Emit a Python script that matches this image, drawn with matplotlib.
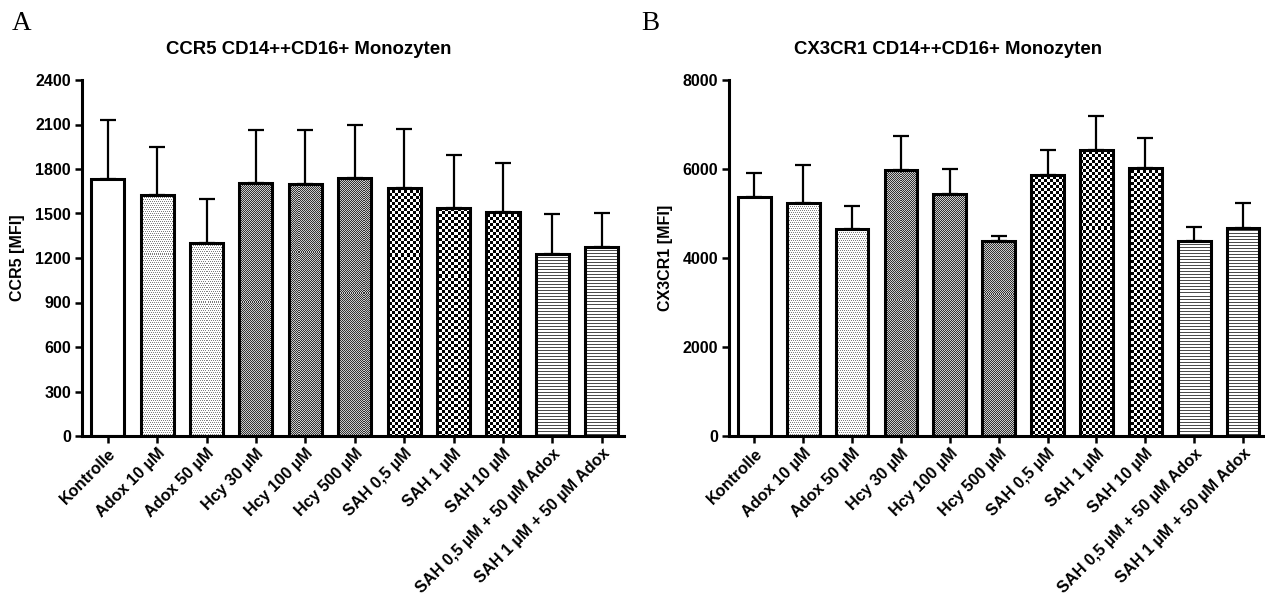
import numpy as np
import matplotlib
matplotlib.use("Agg")
import matplotlib.pyplot as plt

plt.rcParams['font.family'] = ['Liberation Sans', 'DejaVu Sans']
plt.rcParams['font.weight'] = 'bold'

# Data (mean and upper SEM)
groups = ["Kontrolle", "Adox 10 µM", "Adox 50 µM", "Hcy 30 µM", "Hcy 100 µM",
          "Hcy 500 µM", "SAH 0,5 µM", "SAH 1 µM", "SAH 10 µM",
          "SAH 0,5 µM + 50 µM Adox", "SAH 1 µM + 50 µM Adox"]
ccr5_mean = [1735, 1627, 1303, 1706, 1701, 1740, 1674, 1539, 1512, 1225, 1276]
ccr5_err = [397, 321, 293, 355, 360, 355, 396, 355, 326, 270, 227]
cx3cr1_mean = [5378, 5229, 4645, 5978, 5431, 4389, 5858, 6434, 6022, 4389, 4667]
cx3cr1_err = [539, 861, 524, 757, 562, 105, 576, 750, 675, 300, 562]
ccr5_ticks = [0, 300, 600, 900, 1200, 1500, 1800, 2100, 2400]
cx3cr1_ticks = [0, 2000, 4000, 6000, 8000]
patterns = ["white", "dots", "dots", "fine", "fine", "fine",
            "check", "check", "check", "lines", "lines"]

W, H = 1265, 596
fig = plt.figure(figsize=(W / 100, H / 100), dpi=100)


def texture(kind, nx, ny):
    j, i = np.meshgrid(np.arange(nx), np.arange(ny))
    img = np.ones((ny, nx))
    if kind == "dots":
        img[(i % 2 == 0) & ((j + i // 2) % 2 == 0)] = 0.5
    elif kind == "fine":
        img = np.where((i + j) % 2 == 0, 0.2, 0.8)
    elif kind == "check":
        img = np.where(((i // 3) + (j // 3)) % 2 == 0, 0.0, 1.0)
    elif kind == "lines":
        img[i % 3 == 0] = 0.3
    return img


def panel(rect, means, errs, ticks, title, ylabel, letter, letter_x, title_x):
    ax = fig.add_axes(rect)
    x = np.arange(len(groups))
    xlim = (-0.52, 10.45)

    ax.errorbar(x, means, yerr=[np.zeros(len(errs)), errs], fmt='none',
                ecolor='black', elinewidth=1.6, capsize=6, capthick=1.6, zorder=1)
    fills = ax.bar(x, means, width=0.67, color='white', lw=0, zorder=2)
    nx = int(rect[2] * W)
    ny = int(rect[3] * H)
    for patch, kind in zip(fills, patterns):
        if kind == "white":
            continue
        im = ax.imshow(texture(kind, nx, ny), cmap='gray', vmin=0, vmax=1,
                       extent=[xlim[0], xlim[1], 0, ticks[-1]],
                       aspect='auto', interpolation='nearest', zorder=2.5)
        im.set_clip_path(patch)
    ax.bar(x, means, width=0.67, fill=False, edgecolor='black', lw=2.2, zorder=3)
    ax.set_xlim(*xlim)
    ax.set_ylim(0, ticks[-1])

    for s in ['top', 'right']:
        ax.spines[s].set_visible(False)
    for s in ['left', 'bottom']:
        ax.spines[s].set_linewidth(2.2)
    ax.set_yticks(ticks)
    ax.set_xticks(x)
    ax.set_xticklabels(groups, rotation=45, ha='right', rotation_mode='anchor',
                       fontsize=11.7, fontweight='bold')
    ax.tick_params(axis='both', width=1.8, length=5, pad=3)
    ax.tick_params(axis='x', pad=2)
    ax.tick_params(axis='y', labelsize=11.5)
    for lab in ax.get_yticklabels():
        lab.set_fontweight('bold')
    ax.set_ylabel(ylabel, fontsize=11.5, fontweight='bold')
    ax.yaxis.set_label_coords(-0.105, 0.5)

    fig.text(title_x / W, 1 - 49 / H, title, ha='center', va='center',
             fontsize=13.4, fontweight='bold')
    fig.text(letter_x / W, 1 - 24 / H, letter, ha='left', va='center',
             fontsize=19.5, family='Liberation Serif', fontweight='normal')
    return ax


bottom = (H - 436) / H
height = (436 - 80) / H
panel([82 / W, bottom, (624 - 82) / W, height], ccr5_mean, ccr5_err, ccr5_ticks,
      "CCR5 CD14++CD16+ Monozyten", "CCR5 [MFI]", "A", 12, 309)
panel([729 / W, bottom, (1265 - 729) / W, height], cx3cr1_mean, cx3cr1_err, cx3cr1_ticks,
      "CX3CR1 CD14++CD16+ Monozyten", "CX3CR1 [MFI]", "B", 641, 948)

fig.savefig("out.png", dpi=100)
